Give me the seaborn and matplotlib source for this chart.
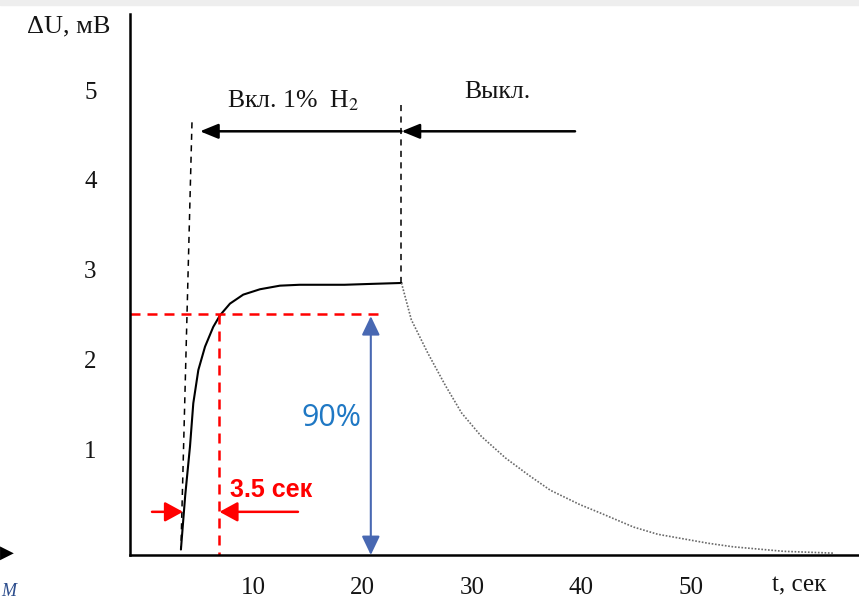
import matplotlib
matplotlib.use("Agg")
import matplotlib.pyplot as plt
import seaborn as sns
from matplotlib.transforms import ScaledTranslation
from matplotlib.patches import Rectangle

# ========== Data ==========
# switch-on response (1% H2)
t_on = [4.06, 4.45, 4.89, 5.19, 5.65, 6.26, 7.01, 7.63, 8.54, 9.75, 11.28,
        13.1, 14.9, 16.8, 19.0, 21.5, 24.2]
u_on = [-0.12, 0.48, 1.03, 1.51, 1.88, 2.14, 2.36, 2.49, 2.62, 2.72, 2.78,
        2.82, 2.83, 2.83, 2.83, 2.84, 2.85]
# switch-off relaxation
t_off = [24.2, 25.1, 26.6, 28.2, 29.7, 31.5, 33.7, 35.8, 37.8, 40.5, 42.3,
         45.4, 47.6, 49.9, 52.2, 54.5, 59.1, 63.6]
u_off = [2.85, 2.44, 2.07, 1.71, 1.40, 1.14, 0.90, 0.71, 0.54, 0.38, 0.29,
         0.13, 0.05, 0.0, -0.05, -0.09, -0.14, -0.16]

x_ticks = [10, 20, 30, 40, 50]
y_ticks = [1, 2, 3, 4, 5]

# guide lines / annotations
t_tangent = [5.07, 4.06]
u_tangent = [4.64, -0.12]
t_switch = 24.2
u_switch_top = 4.83
arrow_level = 4.54
t_arrow_left, t_arrow_right = 5.8, 40.05
t90, u90 = 7.53, 2.50
t90_line_end = 22.4
t_blue = 21.4
red_arrow_level = 0.30

xlim = (-0.59, 65.98)
ylim = (-0.181, 5.847)

# ========== Figure ==========
sns.set_style("white")
plt.rcParams["font.family"] = ["Liberation Serif", "DejaVu Sans"]
plt.rcParams["mathtext.fontset"] = "stix"

fig = plt.figure(figsize=(8.59, 6.01), dpi=100)
ax = fig.add_axes([130 / 859, 46 / 601, 729 / 859, 541 / 601])
ax.set_xlim(*xlim)
ax.set_ylim(*ylim)

# curves
sns.lineplot(x=t_on, y=u_on, ax=ax, color="black", lw=1.5, sort=False)
sns.lineplot(x=t_off, y=u_off, ax=ax, color="#6a6a6a", lw=1.2,
             linestyle=(0, (1, 1)), sort=False)

# black dashed guides
ax.plot(t_tangent, u_tangent, color="black", lw=1.1, linestyle=(0, (4, 3.5)))
ax.plot([t_switch, t_switch], [u_switch_top, u_on[-1]], color="black",
        lw=1.1, linestyle=(0, (4, 3.5)))

# red 90% guides
ax.plot([xlim[0], t90_line_end], [u90, u90], color="#ff0000", lw=1.8,
        linestyle=(0, (4, 2.8)))
ax.plot([t90, t90], [u90, ylim[0]], color="#ff0000", lw=1.8,
        linestyle=(0, (4, 2.8)))

# black arrows
black_arrow = dict(arrowstyle="-|>,head_length=1.1,head_width=0.45",
                   mutation_scale=10, color="black", lw=1.8,
                   shrinkA=0, shrinkB=0)
ax.annotate("", xy=(t_switch, arrow_level), xytext=(t_arrow_right, arrow_level),
            arrowprops=black_arrow)
ax.annotate("", xy=(t_arrow_left, arrow_level), xytext=(t_switch, arrow_level),
            arrowprops=black_arrow)

# red arrows
red_arrow = dict(arrowstyle="-|>,head_length=1.1,head_width=0.6",
                 mutation_scale=10, color="#ff0000", lw=1.8,
                 shrinkA=0, shrinkB=0)
ax.annotate("", xy=(4.25, red_arrow_level), xytext=(1.42, red_arrow_level),
            arrowprops=red_arrow)
ax.annotate("", xy=(t90 + 0.05, red_arrow_level), xytext=(14.75, red_arrow_level),
            arrowprops=red_arrow)

# blue double arrow
ax.annotate("", xy=(t_blue, u90 - 0.02), xytext=(t_blue, ylim[0]),
            arrowprops=dict(arrowstyle="<|-|>,head_length=1.15,head_width=0.55",
                            mutation_scale=10, color="#4868b2", lw=1.5,
                            shrinkA=0, shrinkB=0))

# texts
txt = "#141414"
ax.text(14.3, 4.88, "Вкл. 1%  H$_2$", fontsize=18.5, color=txt,
        ha="center", va="center")
ax.text(33.0, 4.98, "Выкл.", fontsize=18.5, color=txt, ha="center", va="center")
ax.text(-6.16, 5.71, "ΔU, мВ", fontsize=19, color=txt, ha="center",
        va="center", clip_on=False)
ax.text(60.5, -0.52, "t, сек", fontsize=18, color=txt, ha="center",
        va="center", clip_on=False)
ax.text(12.3, 0.54, "3.5 сек", fontsize=18, fontweight="bold", color="#ff0000",
        family=["Liberation Sans", "DejaVu Sans"], ha="center", va="center")
ax.text(17.85, 1.345, "90%", fontsize=22, color="#1f78c4",
        family=["Open Sans", "DejaVu Sans"], ha="center", va="center")

# axes styling
sns.despine(ax=ax, top=True, right=True)
for side in ["left", "bottom"]:
    ax.spines[side].set_linewidth(1.8)
    ax.spines[side].set_color("black")
ax.set_xticks(x_ticks)
ax.set_yticks(y_ticks)
ax.tick_params(axis="x", direction="in", length=14.4, width=2.2, pad=16,
               labelsize=18, colors=txt)
ax.tick_params(axis="y", direction="in", length=16, width=2.2, pad=24,
               labelsize=18, colors=txt)
ax.tick_params(axis="both", color="black")
shift = ScaledTranslation(7 / 100, 0, fig.dpi_scale_trans)
for lbl in ax.get_xticklabels():
    lbl.set_transform(lbl.get_transform() + shift)

# scan artefacts: grey strip on top, cut-off arrow and letter on the left
fig.patches.append(Rectangle((0, 1 - 5 / 601), 1, 5 / 601,
                             transform=fig.transFigure, color="#eeeeee", zorder=0))
fig.text(0.0, 1 - 553 / 601, "▶", fontsize=13, color="black",
         family=["DejaVu Sans"], ha="left", va="center")
fig.text(0.002, 1 - 583 / 601, "M", fontsize=13, color="#2b4c8c",
         fontstyle="italic", ha="left", va="top")

fig.savefig("out.png", dpi=100)
